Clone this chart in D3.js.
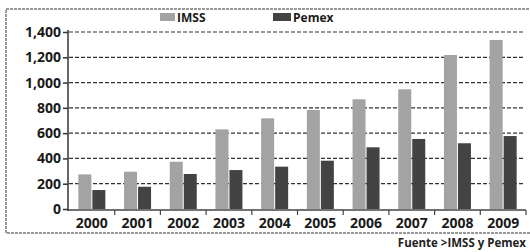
<!DOCTYPE html>
<html>
<head>
<meta charset="utf-8">
<script src="https://cdn.jsdelivr.net/npm/d3@7"></script>
<style>
  body { margin: 0; background: #fff; }
  svg { display: block; font-family: "Open Sans", sans-serif; font-weight: 700; }
</style>
</head>
<body>
<script>
  // data
  var years = ["2000", "2001", "2002", "2003", "2004", "2005", "2006", "2007", "2008", "2009"];
  var imss = [274, 295, 374, 630, 717, 783, 868, 947, 1218, 1337];
  var pemex = [150, 176, 277, 308, 335, 382, 488, 554, 520, 577];
  var seriesNames = ["IMSS", "Pemex"];
  var yTicks = [0, 200, 400, 600, 800, 1000, 1200, 1400];

  var width = 530, height = 252;
  var colors = ["#a3a3a3", "#434343"];

  var svg = d3.select("body").append("svg")
    .attr("width", width)
    .attr("height", height);

  // outer frame
  svg.append("rect")
    .attr("x", 6).attr("y", 9)
    .attr("width", 540).attr("height", 224)
    .attr("fill", "none")
    .attr("stroke", "#777")
    .attr("stroke-width", 1.5)
    .attr("stroke-dasharray", "3,1");

  var x = d3.scaleBand().domain(years).range([69, 526]);
  var y = d3.scaleLinear().domain([0, 1400]).range([209, 32]);

  // gridlines
  svg.append("g")
    .selectAll("line")
    .data(yTicks.filter(function(d) { return d > 0; }))
    .join("line")
    .attr("x1", 69).attr("x2", 524)
    .attr("y1", function(d) { return y(d); })
    .attr("y2", function(d) { return y(d); })
    .attr("stroke", "#333")
    .attr("stroke-width", 1.2)
    .attr("stroke-dasharray", "4,2");

  // bars
  var barW = 13;
  var rows = years.map(function(yr, i) { return { year: yr, vals: [imss[i], pemex[i]] }; });
  var groups = svg.append("g").selectAll("g")
    .data(rows)
    .join("g")
    .attr("transform", function(d) { return "translate(" + (x(d.year) + x.bandwidth() / 2) + ",0)"; });

  groups.selectAll("rect")
    .data(function(d) { return d.vals; })
    .join("rect")
    .attr("x", function(d, i) { return i === 0 ? -barW - 0.5 : 0.5; })
    .attr("width", barW)
    .attr("y", function(d) { return y(d); })
    .attr("height", function(d) { return y(0) - y(d); })
    .attr("fill", function(d, i) { return colors[i]; });

  // y axis
  var yAxis = svg.append("g")
    .attr("transform", "translate(68,0)")
    .call(d3.axisLeft(y).tickValues(yTicks).tickFormat(d3.format(",")).tickSize(5).tickPadding(2));
  yAxis.select(".domain").attr("d", "M0,30V211").attr("stroke", "#333").attr("stroke-width", 1.5);
  yAxis.selectAll(".tick line").attr("stroke", "#333").attr("stroke-width", 1.5);
  yAxis.selectAll("text")
    .attr("fill", "#1a1a1a")
    .style("font-size", "14px")
    .style("font-weight", "700")
    .style("font-family", "'Open Sans', sans-serif");

  // x axis
  var xAxis = svg.append("g")
    .attr("transform", "translate(0,210)")
    .call(d3.axisBottom(x).tickSize(0).tickPadding(8));
  xAxis.select(".domain").attr("d", "M68,0H526").attr("stroke", "#444").attr("stroke-width", 1.5);
  xAxis.selectAll("text")
    .attr("fill", "#1a1a1a")
    .style("font-size", "14px")
    .style("font-weight", "700")
    .style("font-family", "'Open Sans', sans-serif");
  xAxis.append("g").selectAll("line")
    .data(years)
    .join("line")
    .attr("x1", function(d) { return x(d) + x.bandwidth(); })
    .attr("x2", function(d) { return x(d) + x.bandwidth(); })
    .attr("y1", 0).attr("y2", 5)
    .attr("stroke", "#444")
    .attr("stroke-width", 1.2);

  // legend
  var legendPos = [160, 273];
  var legendW = [15, 18];
  var legend = svg.append("g").selectAll("g")
    .data(seriesNames)
    .join("g")
    .attr("transform", function(d, i) { return "translate(" + legendPos[i] + ",13)"; });
  legend.append("rect")
    .attr("width", function(d, i) { return legendW[i]; })
    .attr("height", 8)
    .attr("fill", function(d, i) { return colors[i]; });
  legend.append("text")
    .attr("x", function(d, i) { return legendW[i] + 2; })
    .attr("y", 9)
    .attr("fill", "#1a1a1a")
    .style("font-size", "12px")
    .text(function(d) { return d; });

  // source note
  svg.append("text")
    .attr("x", 526).attr("y", 247)
    .attr("text-anchor", "end")
    .attr("fill", "#222")
    .style("font-size", "11.5px")
    .text("Fuente >IMSS y Pemex");
</script>
</body>
</html>
